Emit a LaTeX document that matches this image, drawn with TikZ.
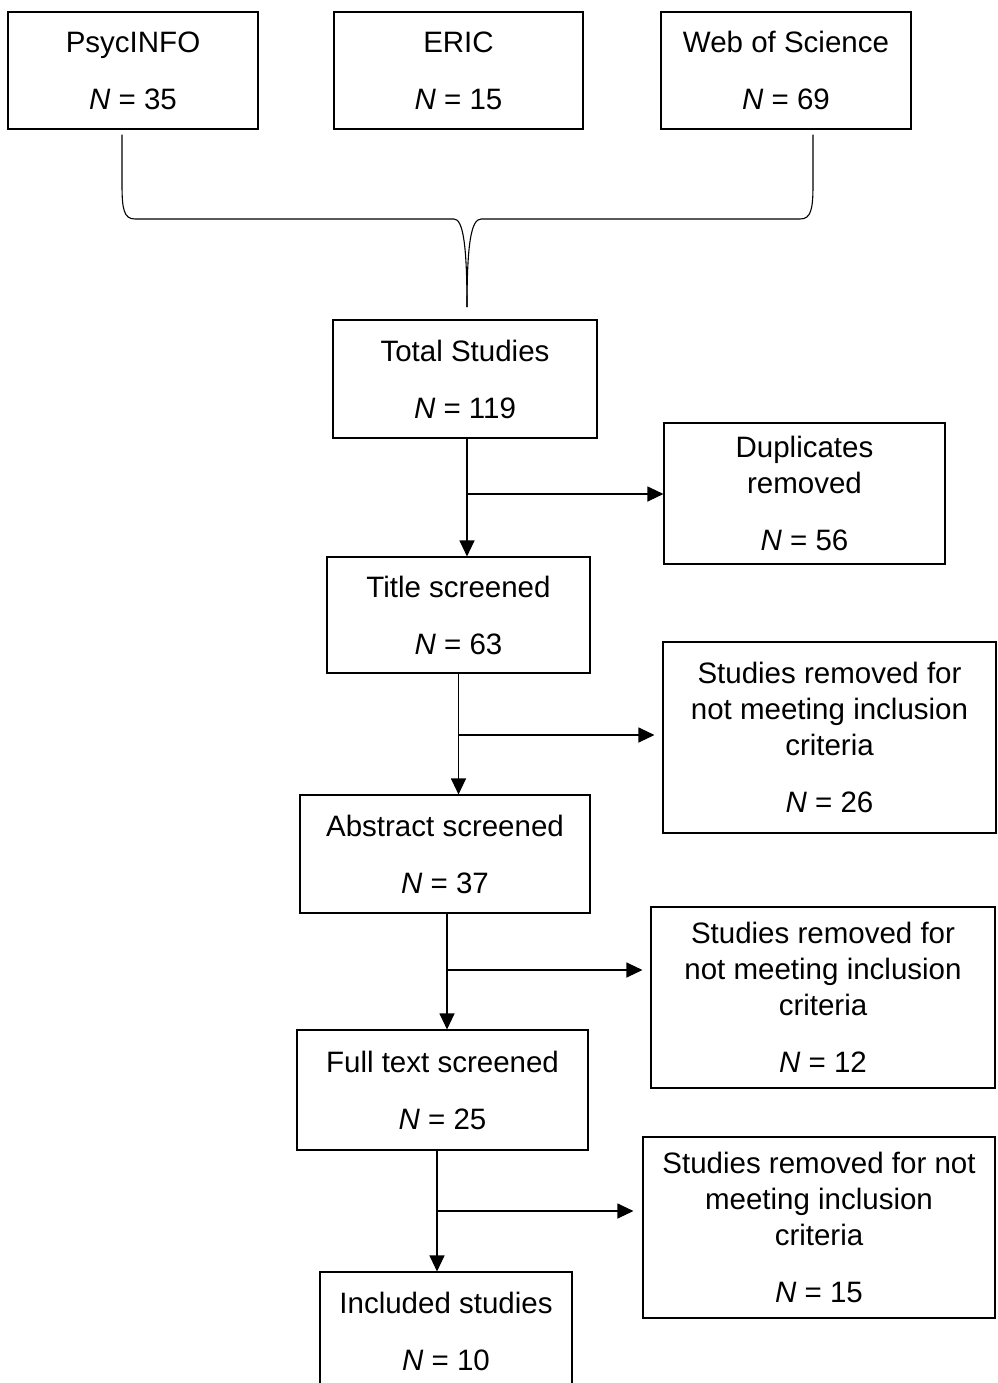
\documentclass[tikz,border=0pt]{standalone}
\usepackage{fontspec}
\setmainfont{Liberation Sans}
\usetikzlibrary{arrows.meta,calc}
\begin{document}
\begin{tikzpicture}[x=1pt,y=-1pt,
  box/.style={draw, line width=1.1pt, inner sep=0pt, align=center,
    font=\fontsize{29.5}{36}\selectfont},
  arr/.style={line width=1.1pt, -{Triangle[length=16pt,width=15pt]}},
  brace/.style={line width=1.1pt}]
\useasboundingbox (0,0) rectangle (997,1383);
\fill[white] (0,0) rectangle (997,1383);
% top sources
\node[box, minimum width=250pt, minimum height=117pt] (psyc) at (133,70.5) {PsycINFO\\[21pt]\textit{N} = 35};
\node[box, minimum width=249pt, minimum height=117pt] (eric) at (458.5,70.5) {ERIC\\[21pt]\textit{N} = 15};
\node[box, minimum width=250pt, minimum height=117pt] (wos) at (786,70.5) {Web of Science\\[21pt]\textit{N} = 69};
% main column
\node[box, minimum width=264pt, minimum height=118pt] (total) at (465,379) {Total Studies\\[21pt]\textit{N} = 119};
\node[box, minimum width=263pt, minimum height=116pt] (title) at (458.5,615) {Title screened\\[21pt]\textit{N} = 63};
\node[box, minimum width=290pt, minimum height=118pt] (abs) at (445,854) {Abstract screened\\[21pt]\textit{N} = 37};
\node[box, minimum width=291pt, minimum height=120pt] (full) at (442.5,1090) {Full text screened\\[21pt]\textit{N} = 25};
\node[box, minimum width=252pt, minimum height=118pt] (incl) at (446,1331) {Included studies\\[21pt]\textit{N} = 10};
% side boxes
\node[box, minimum width=281pt, minimum height=141pt] (dup) at (804.5,493.5) {Duplicates\\removed\\[21pt]\textit{N} = 56};
\node[box, minimum width=333pt, minimum height=191pt] (rem1) at (829.5,737.5) {Studies removed for\\not meeting inclusion\\criteria\\[21pt]\textit{N} = 26};
\node[box, minimum width=344pt, minimum height=181pt] (rem2) at (823,997.5) {Studies removed for\\not meeting inclusion\\criteria\\[21pt]\textit{N} = 12};
\node[box, minimum width=352pt, minimum height=181pt] (rem3) at (819,1227.5) {Studies removed for not\\meeting inclusion\\criteria\\[21pt]\textit{N} = 15};
% helper coordinates
\coordinate (t0) at ([xshift=2pt]total.south);
\coordinate (d0) at ([yshift=-0.5pt]dup.west);
\coordinate (a0) at ([xshift=2pt]abs.south);
\coordinate (r1) at ([yshift=2.5pt]rem1.west);
\coordinate (r2) at ([yshift=27.5pt]rem2.west);
\coordinate (f0) at ([xshift=-5.5pt]full.south);
\coordinate (r3) at ([yshift=16.5pt]rem3.west);
% brace
\coordinate (tip) at (467,307);
\draw[brace] ($(psyc.south)+(-11,5)$) -- ++(0,50) .. controls +(0,25) and (124,219) .. (135,219) -- (454,219) .. controls (463,219) and (467,245) .. (tip);
\draw[brace] ($(wos.south)+(27,5)$) -- ++(0,50) .. controls +(0,25) and (811,219) .. (800,219) -- (481,219) .. controls (471,219) and (467,245) .. (tip);
% connectors
\draw[arr] (t0) -- (t0 |- title.north);
\draw[arr] (t0 |- d0) -- (d0);
\draw[arr] (title.south) -- (title.south |- abs.north);
\draw[arr, shorten >=8pt] (title.south |- r1) -- (r1);
\draw[arr] (a0) -- (a0 |- full.north);
\draw[arr, shorten >=8pt] (a0 |- r2) -- (r2);
\draw[arr] (f0) -- (f0 |- incl.north);
\draw[arr, shorten >=9pt] (f0 |- r3) -- (r3);
\end{tikzpicture}
\end{document}
